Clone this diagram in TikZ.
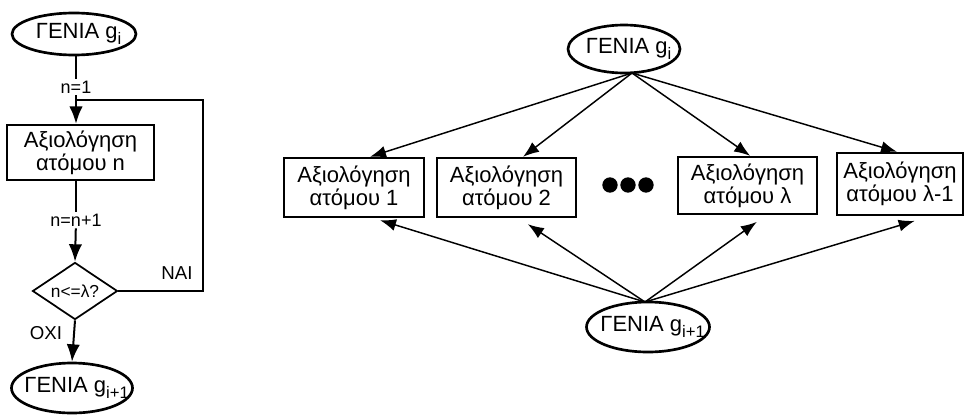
\documentclass[tikz,border=0pt]{standalone}
\usepackage{fontspec}
\setmainfont{Liberation Sans}
\usetikzlibrary{shapes.geometric,arrows.meta}

\newcommand\gen[1]{\kern7pt ΓΕΝΙΑ g\raisebox{-0.45ex}{\fontsize{12.5pt}{12.5pt}\selectfont #1}}

\begin{document}
\begin{tikzpicture}[x=0.75pt,y=-0.75pt,
  genia/.style={draw,line width=2pt,ellipse,inner xsep=-14pt,inner ysep=-4pt,
    font=\fontsize{16.5pt}{18pt}\selectfont},
  evalbox/.style={draw,line width=1.8pt,rectangle,inner sep=0pt,align=center,
    font=\fontsize{16.5pt}{17.5pt}\selectfont},
  testbox/.style={draw,line width=1.3pt,diamond,aspect=1.6,inner sep=0pt,
    font=\fontsize{13pt}{14pt}\selectfont},
  steplabel/.style={inner sep=1.5pt,fill=white,font=\fontsize{13.5pt}{15pt}\selectfont},
  answer/.style={inner sep=0pt,font=\fontsize{14pt}{16pt}\selectfont},
  flow/.style={line width=1.5pt},
  flowarrow/.style={flow,-{Latex[length=13pt,width=10pt]}},
  loopline/.style={line width=1pt},
  fan/.style={line width=1.1pt,-{Latex[length=12pt,width=9pt]}},
  dot/.style={circle,fill=black,inner sep=0pt,minimum size=11.5pt}]
\useasboundingbox (0,0) rectangle (966,414);

% ---- sequential evaluation loop ----
\node[genia,minimum width=124*0.75pt,minimum height=42*0.75pt] (gL) at (74,34) {\gen{i}};
\node[steplabel] (n1) at (76,87) {n=1};
\node[evalbox,minimum width=147*0.75pt,minimum height=55*0.75pt] (bL) at (80.5,152.5)
  {Αξιολόγηση\\ατόμου n};
\node[steplabel] (n2) at (76,220) {n=n+1};
\node[testbox,minimum width=85*0.75pt,minimum height=57*0.75pt] (dL) at (75,291) {n<=λ?};
\node[genia,minimum width=121*0.75pt,minimum height=50*0.75pt] (gL2) at (72,388) {\gen{i+1}};
\coordinate (loopc) at (203,100);

\draw[flow] (gL.south -| n1) -- (n1);
\draw[flowarrow] (n1) -- (n1 |- bL.north);
\draw[flow] (bL.south -| n2) -- (n2);
\draw[flowarrow] (n2) -- (dL.north);
\draw[loopline] (dL.east) -| (loopc) -- (loopc -| n1);
\draw[flowarrow] (dL.south) -- (gL2.north);
\node[answer] (yes) at (177,273) {ΝΑΙ};
\node[answer] (no) at (46,333) {ΟΧΙ};

% ---- parallel evaluation ----
\node[genia,minimum width=112*0.75pt,minimum height=48*0.75pt] (gR) at (624,49) {\gen{i}};
\node[evalbox,minimum width=140*0.75pt,minimum height=59*0.75pt] (b1) at (354,187.5)
  {Αξιολόγηση\\ατόμου 1};
\node[evalbox,minimum width=139*0.75pt,minimum height=59*0.75pt] (b2) at (506.5,187.5)
  {Αξιολόγηση\\ατόμου 2};
\node[evalbox,minimum width=139*0.75pt,minimum height=57*0.75pt] (bl) at (747.5,185.5)
  {Αξιολόγηση\\ατόμου λ};
\node[evalbox,minimum width=126*0.75pt,minimum height=62*0.75pt] (bl1) at (900,184)
  {Αξιολόγηση\\ατόμου λ-1};
\node[dot] (d1) at (610,185) {};
\node[dot] (d2) at (628,185) {};
\node[dot] (d3) at (646,185) {};
\node[genia,minimum width=123*0.75pt,minimum height=50*0.75pt] (gR2) at (648,327) {\gen{i+1}};
\coordinate (top) at (632,73);
\coordinate (bot) at (645,302);

\draw[fan] (top) -- ([xshift=12pt]b1.north);
\draw[fan] (top) -- ([xshift=12.4pt]b2.north);
\draw[fan] (top) -- ([xshift=2pt]bl.north);
\draw[fan] (top) -- ([xshift=-2.2pt]bl1.north);
\draw[fan] (bot) -- ([xshift=19.5pt,yshift=-1.5pt]b1.south);
\draw[fan] (bot) -- ([xshift=16pt,yshift=-4.5pt]b2.south);
\draw[fan] (bot) -- ([xshift=7pt,yshift=-5pt]bl.south);
\draw[fan] (bot) -- ([xshift=11pt,yshift=-3.5pt]bl1.south);
\end{tikzpicture}
\end{document}
